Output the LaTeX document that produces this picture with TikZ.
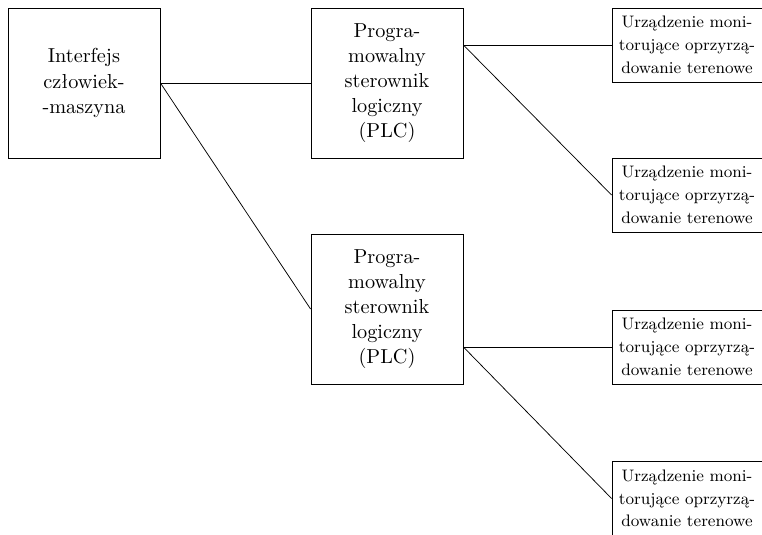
\documentclass[tikz,border=0pt,11pt]{standalone}
\usepackage{fontspec}
\usetikzlibrary{positioning}

\begin{document}
\begin{tikzpicture}[x=0.5405pt, y=-0.5405pt, every node/.style={draw, rectangle, align=center},
  unit/.style={font=\normalsize, minimum width=82.2pt, minimum height=81.1pt},
  device/.style={font=\fontsize{9}{12.3}\selectfont, inner sep=2pt, minimum width=81.1pt, minimum height=40pt}]
\useasboundingbox (0,0) rectangle (762,534);
\node[unit] (hmi) at (84,83) {Interfejs\\człowiek-\\-maszyna};
\node[unit] (plc1) at (387,83) {Progra-\\mowalny\\sterownik\\logiczny\\(PLC)};
\node[unit] (plc2) at (387,309) {Progra-\\mowalny\\sterownik\\logiczny\\(PLC)};
\node[device] (dev1) at (687,45) {Urządzenie moni-\\torujące oprzyrzą-\\dowanie terenowe};
\node[device] (dev2) at (687,195) {Urządzenie moni-\\torujące oprzyrzą-\\dowanie terenowe};
\node[device] (dev3) at (687,347) {Urządzenie moni-\\torujące oprzyrzą-\\dowanie terenowe};
\node[device] (dev4) at (687,498.5) {Urządzenie moni-\\torujące oprzyrzą-\\dowanie terenowe};

\coordinate (out1) at (plc1.east |- dev1.west);
\coordinate (out2) at (plc2.east |- dev3.west);

\draw (hmi.east) -- (plc1.west);
\draw (hmi.east) -- (plc2.west);
\draw (out1) -- (dev1.west);
\draw (out1) -- (dev2.west);
\draw (out2) -- (dev3.west);
\draw (out2) -- (dev4.west);
\end{tikzpicture}
\end{document}
